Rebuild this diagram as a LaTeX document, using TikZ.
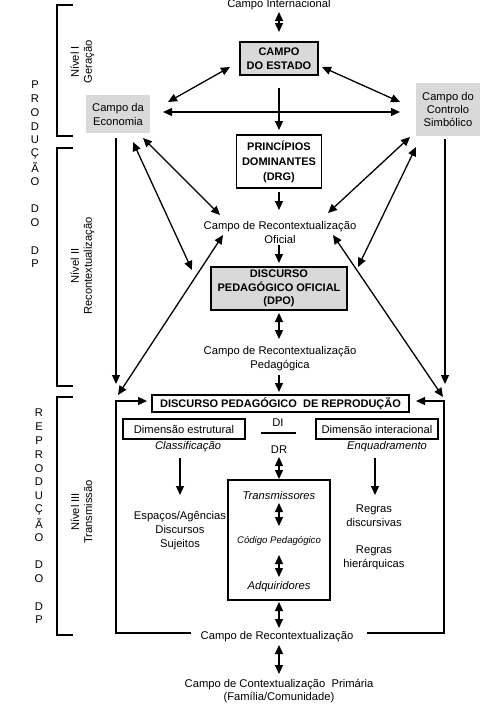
\documentclass[tikz,border=0pt]{standalone}
\usepackage{fontspec}
\setmainfont{Liberation Sans}
\usetikzlibrary{arrows.meta,calc}
\newcommand{\mainfs}{\fontsize{11.2}{14}\selectfont}
\newcommand{\boldfs}{\fontsize{11}{13.5}\selectfont\bfseries}
\newcommand{\smallit}{\fontsize{9.6}{12}\selectfont\itshape}
\begin{document}
\begin{tikzpicture}[x=1pt,y=-1pt,
  every node/.style={inner sep=0pt,font=\mainfs,text=black},
  txt/.style={align=center},
  gbox/.style={fill=gray!30,draw=none,align=center},
  bbox/.style={draw,line width=1.8pt,align=center,font=\boldfs},
  arr/.style={line width=1.3pt,-{Triangle[length=9pt,width=8pt]}},
  dar/.style={line width=1.3pt,{Triangle[length=9pt,width=8pt]}-{Triangle[length=9pt,width=8pt]}},
  plain/.style={line width=1.3pt},
  brk/.style={line width=1.8pt}]
\useasboundingbox (0,0) rectangle (487,712);

% ---- nodes ----
\node[txt] (intl) at (279,5) {Campo Internacional};
\node[bbox,fill=gray!30,minimum width=78pt,minimum height=33pt] (estado) at (279,58.5) {CAMPO\\DO ESTADO};
\node[gbox,minimum width=64pt,minimum height=38pt,font=\fontsize{11.2}{14}\selectfont] (eco) at (118,114) {Campo da\\Economia};
\node[gbox,minimum width=64pt,minimum height=53pt,font=\fontsize{11.2}{13}\selectfont] (ctrl) at (448,109.5) {Campo do\\Controlo\\Simbólico};
\node[bbox,minimum width=85pt,minimum height=53pt,font=\fontsize{11}{15}\selectfont\bfseries] (drg) at (279,161.5) {PRINCÍPIOS\\DOMINANTES\\(DRG)};
\node[txt] (cro) at (280,232) {Campo de Recontextualização\\Oficial};
\node[bbox,fill=gray!30,minimum width=136pt,minimum height=43pt] (dpo) at (279,288.5) {DISCURSO\\PEDAGÓGICO OFICIAL\\(DPO)};
\node[txt] (crp) at (280,359) {Campo de Recontextualização\\Pedagógica};
\node[bbox,minimum width=257pt,minimum height=17pt] (dpr) at (280.5,403.5) {DISCURSO PEDAGÓGICO \ DE REPRODUÇÃO};
\node[draw,line width=1.8pt,minimum width=122pt,minimum height=20pt] (dimE) at (184,429) {Dimensão estrutural};
\node[draw,line width=1.8pt,minimum width=122pt,minimum height=20pt] (dimI) at (377,429) {Dimensão interacional};
\node (di) at (278,423) {DI};
\node (dr) at (279,450) {DR};
\node[font=\mainfs\itshape] (classif) at (188,447) {Classificação};
\node[font=\mainfs\itshape] (enq) at (387,447) {Enquadramento};
\node[txt] (esp) at (180,531) {Espaços/Agências\\Discursos\\Sujeitos};
\node[txt] (regras1) at (374,516) {Regras\\discursivas};
\node[txt] (regras2) at (374,557.5) {Regras\\hierárquicas};
\node[draw,line width=1.8pt,minimum width=102pt,minimum height=120pt] (codebox) at (279,540) {};
\node[font=\mainfs\itshape] (trans) at (279,495) {Transmissores};
\node[font=\smallit] (codigo) at (279,541) {Código Pedagógico};
\node[font=\mainfs\itshape] (adq) at (279,587) {Adquiridores};
\node (cr) at (277,637) {Campo de Recontextualização};
\node[txt,font=\fontsize{11.2}{13}\selectfont] (ccp) at (279,691) {Campo de Contextualização \ Primária\\(Família/Comunidade)};

% ---- level labels ----
\node[txt,rotate=90,font=\fontsize{11.2}{13}\selectfont] (n1) at (82.5,62) {Nível I\\Geração};
\node[txt,rotate=90,font=\fontsize{11.2}{13}\selectfont] (n2) at (82.5,266) {Nível II\\Recontextualização};
\node[txt,rotate=90,font=\fontsize{11.2}{13}\selectfont] (n3) at (81.5,512) {Nível III\\Transmissão};

\foreach \i/\l in {0/P,1/R,2/O,3/D,4/U,5/Ç,6/Ã,7/O,9/D,10/O,12/D,13/P}
  \node (pa\i) at (35,{85+\i*13.77}) {\l};
\foreach \i/\l in {0/R,1/E,2/P,3/R,4/O,5/D,6/U,7/Ç,8/Ã,9/O,11/D,12/O,14/D,15/P}
  \node (rp\i) at (39,{413+\i*13.8}) {\l};

% ---- brackets ----
\draw[brk] (73,5) -- (57,5) -- (57,136) -- (73,136);
\draw[brk] (73,148) -- (57,148) -- (57,386) -- (73,386);
\draw[brk] (73,397) -- (57,397) -- (57,635) -- (73,635);

% ---- connectors ----
\draw[dar] ($(intl)+(0,7)$) -- ($(estado)+(0,-26.5)$);
\draw[dar] ($(eco)+(50,-12)$) -- ($(estado)+(-49,8.5)$);
\draw[dar] ($(estado)+(43,8.5)$) -- ($(ctrl)+(-48,-7.5)$);
\draw[dar] ($(eco)+(45,-2)$) -- ($(ctrl)+(-48,2.5)$);
\draw[arr] ($(estado)+(0,29.5)$) -- ($(drg)+(0,-31.5)$);
\draw[arr] ($(drg)+(0,30.5)$) -- ($(cro)+(-1,-22)$);
\draw[arr] ($(cro)+(-1,13)$) -- ($(dpo)+(0,-25.5)$);
\draw[dar] ($(dpo)+(0,24.5)$) -- ($(crp)+(-1,-20)$);
\draw[arr] ($(crp)+(-1,16)$) -- ($(dpr)+(-1.5,-11.5)$);

\draw[arr] ($(eco)+(-2,24)$) -- ($(dpr)+(-164.5,-19.5)$);
\draw[arr] ($(ctrl)+(-3,29.5)$) -- ($(dpr)+(164.5,-19.5)$);
\draw[dar] ($(eco)+(15,28)$) -- ($(dpo)+(-87,-18.5)$);
\draw[dar] ($(eco)+(25,24)$) -- ($(cro)+(-60,-17)$);
\draw[dar] ($(ctrl)+(-38,27.5)$) -- ($(cro)+(48,-19)$);
\draw[dar] ($(ctrl)+(-32,37.5)$) -- ($(dpo)+(79,-21.5)$);
\draw[dar] ($(cro)+(-57,3)$) -- ($(dpr)+(-162.5,-8.5)$);
\draw[dar] ($(cro)+(53,3)$) -- ($(dpr)+(162.5,-6.5)$);

% loop
\draw[arr] ($(cr)+(-86,-4)$) -| ($(dpr)+(-164.5,-2.5)$) -- ($(dpr)+(-133.5,-2.5)$);
\draw[arr] ($(cr)+(90,-4)$) -| ($(dpr)+(163.5,-2.5)$) -- ($(dpr)+(135.5,-2.5)$);

\draw[plain] ($(di)+(-17,10)$) -- ($(di)+(18,10)$);
\draw[dar] ($(dr)+(0,7)$) -- ($(codebox)+(0,-61)$);
\draw[dar] ($(trans)+(0,8)$) -- ($(codigo)+(0,-15)$);
\draw[dar] ($(codigo)+(0,14)$) -- ($(adq)+(0,-10)$);
\draw[dar] ($(codebox)+(0,62)$) -- ($(cr)+(2,-9)$);
\draw[dar] ($(cr)+(2,8)$) -- ($(ccp)+(0,-17)$);
\draw[arr] ($(classif)+(-8,11)$) -- ($(esp)+(0,-36)$);
\draw[arr] ($(enq)+(-12,11)$) -- ($(regras1)+(1,-21)$);
\end{tikzpicture}
\end{document}
